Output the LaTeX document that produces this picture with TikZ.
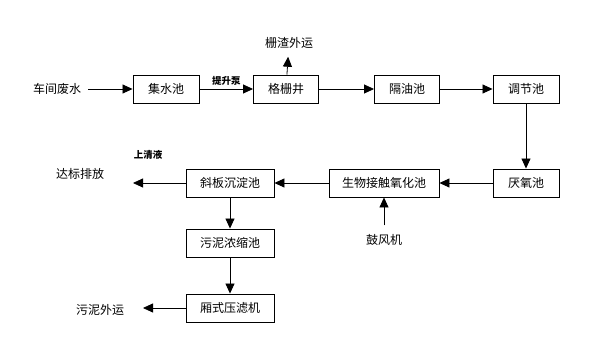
\documentclass[tikz,border=0pt]{standalone}
\usepackage{fontspec}
\setmainfont{Noto Sans CJK SC}
\usetikzlibrary{arrows.meta,positioning}

\begin{document}
\begin{tikzpicture}[x=1pt,y=-1pt,>={Triangle[length=10pt,width=9pt]},
    pool/.style={draw,line width=0.9pt,minimum height=28pt,inner sep=2pt,font=\fontsize{12}{14}\selectfont},
    txt/.style={inner sep=1pt,font=\fontsize{12}{14}\selectfont},
    small/.style={inner sep=1pt,font=\fontsize{9.5}{11}\selectfont\bfseries},
    flow/.style={->,line width=0.8pt}]
    \useasboundingbox (0,0) rectangle (600,342);
    % top row
    \node[txt] (feed) at (57,89) {车间废水};
    \node[pool,minimum width=66pt] (jishui) at (166,89) {集水池};
    \node[pool,minimum width=65pt] (gezha) at (286,89) {格栅井};
    \node[pool,minimum width=65pt] (geyou) at (407,89) {隔油池};
    \node[pool,minimum width=66pt] (tiaojie) at (526,89) {调节池};
    \node[txt] (slag) at (289,43) {栅渣外运};
    % middle row
    \node[pool,minimum width=66pt] (yanyang) at (526,183) {厌氧池};
    \node[pool,minimum width=110pt] (shengwu) at (384,183) {生物接触氧化池};
    \node[pool,minimum width=88pt] (xieban) at (230,183) {斜板沉淀池};
    \node[txt] (blower) at (384,240) {鼓风机};
    \node[txt] (discharge) at (80,174) {达标排放};
    \node[small] (clear) at (148,155) {上清液};
    \coordinate (outA) at (133,183);
    % sludge line
    \node[pool,minimum width=88pt] (nongsuo) at (230,243) {污泥浓缩池};
    \node[pool,minimum width=88pt] (yalv) at (230,308) {厢式压滤机};
    \node[txt] (sludge) at (100,310) {污泥外运};
    \coordinate (outB) at (143,308);

    \draw[flow,shorten <=6pt] (feed) -- (jishui);
    \draw[flow] (jishui) -- node[small,above=2pt] {提升泵} (gezha);
    \draw[flow,shorten >=7pt] (gezha) -- (slag);
    \foreach \u/\v in {gezha/geyou,geyou/tiaojie,tiaojie/yanyang,yanyang/shengwu,shengwu/xieban,xieban/nongsuo,nongsuo/yalv}
      \draw[flow] (\u)--(\v);
    \draw[flow,shorten <=8pt] (blower) -- (shengwu);
    \draw[flow] (xieban) -- (outA);
    \draw[flow] (yalv) -- (outB);
\end{tikzpicture}
\end{document}
